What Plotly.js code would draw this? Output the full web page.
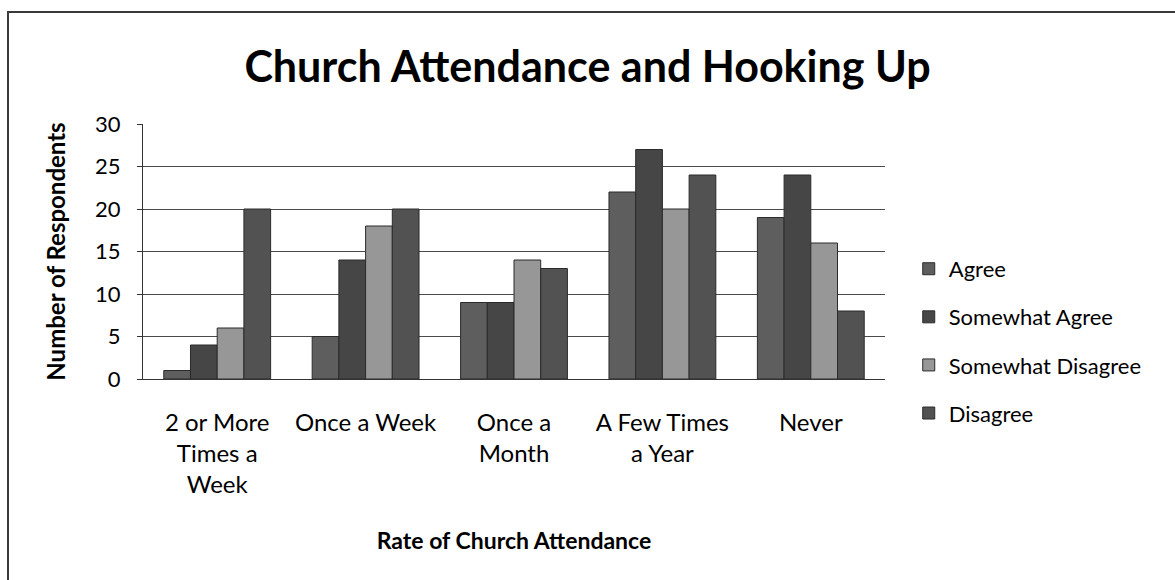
<!DOCTYPE html>
<html>
<head>
<meta charset="utf-8">
<script src="https://cdn.plot.ly/plotly-3.0.1.min.js"></script>
<style>
  html, body { margin: 0; padding: 0; background: #fff; overflow: hidden; }
  #wrap { position: relative; width: 1175px; height: 580px; overflow: hidden; }
  #chart { position: absolute; left: 0; top: 0; width: 1175px; height: 580px; }
  #frame { position: absolute; left: 7px; top: 11px; width: 1300px; height: 700px;
           border-left: 2px solid #3a3a3a; border-top: 2px solid #3a3a3a; pointer-events: none; }
</style>
</head>
<body>
<div id="wrap">
  <div id="chart"></div>
  <div id="frame"></div>
</div>
<script>
const categories = [
  "2 or More<br>Times a<br>Week",
  "Once a Week",
  "Once a<br>Month",
  "A Few Times<br>a Year",
  "Never"
];
const seriesNames = ["Agree", "Somewhat Agree", "Somewhat Disagree", "Disagree"];
const agree = [1, 5, 9, 22, 19];
const somewhatAgree = [4, 14, 9, 27, 24];
const somewhatDisagree = [6, 18, 14, 20, 16];
const disagree = [20, 20, 13, 24, 8];
const seriesValues = [agree, somewhatAgree, somewhatDisagree, disagree];
const seriesColors = ["#5e5e5e", "#464646", "#979797", "#525252"];
const yTicks = [0, 5, 10, 15, 20, 25, 30];

const FONT = "Lato, 'Open Sans', sans-serif";

const traces = seriesNames.map((name, i) => ({
  type: "bar",
  name: name,
  x: categories,
  y: seriesValues[i],
  legendgroup: "g" + i,
  marker: { color: seriesColors[i], line: { color: "#2b2b2b", width: 1 } }
}));

const layout = {
  width: 1175,
  height: 580,
  paper_bgcolor: "#ffffff",
  plot_bgcolor: "#ffffff",
  margin: { l: 143, r: 290, t: 124, b: 201 },
  font: { family: FONT, color: "#000" },
  barmode: "group",
  bargap: 0.28,
  bargroupgap: 0,
  title: {
    text: "<b>Church Attendance and Hooking Up</b>",
    font: { family: FONT, size: 43, color: "#000" },
    x: 0.5, xref: "container", xanchor: "center",
    y: 1 - 67 / 580, yref: "container", yanchor: "middle"
  },
  xaxis: {
    type: "category",
    showline: true, linecolor: "#333", linewidth: 1,
    ticks: "", showgrid: false,
    tickfont: { family: FONT, size: 24, color: "#000" },
    ticklabelstandoff: 22,
    title: {
      text: "<b>Rate of Church Attendance</b>",
      font: { family: FONT, size: 23, color: "#000" },
      standoff: 35
    }
  },
  yaxis: {
    range: [0, 30],
    tickvals: yTicks,
    ticktext: yTicks.map(String),
    showline: true, linecolor: "#333", linewidth: 1,
    ticks: "outside", ticklen: 5, tickcolor: "#333",
    gridcolor: "#4a4a4a", gridwidth: 1,
    zeroline: false,
    tickfont: { family: FONT, size: 22, color: "#000" },
    ticklabelstandoff: 12,
    title: {
      text: "<b>Number of Respondents</b>",
      font: { family: FONT, size: 24, color: "#000" },
      standoff: 22
    }
  },
  legend: {
    x: 1.032, xanchor: "left",
    y: 0.514, yanchor: "top",
    font: { family: FONT, size: 22, color: "#000" },
    tracegroupgap: 16.5,
    bgcolor: "rgba(0,0,0,0)",
    itemclick: false
  },
  showlegend: true
};

Plotly.newPlot("chart", traces, layout, { staticPlot: true, displayModeBar: false });
</script>
</body>
</html>
